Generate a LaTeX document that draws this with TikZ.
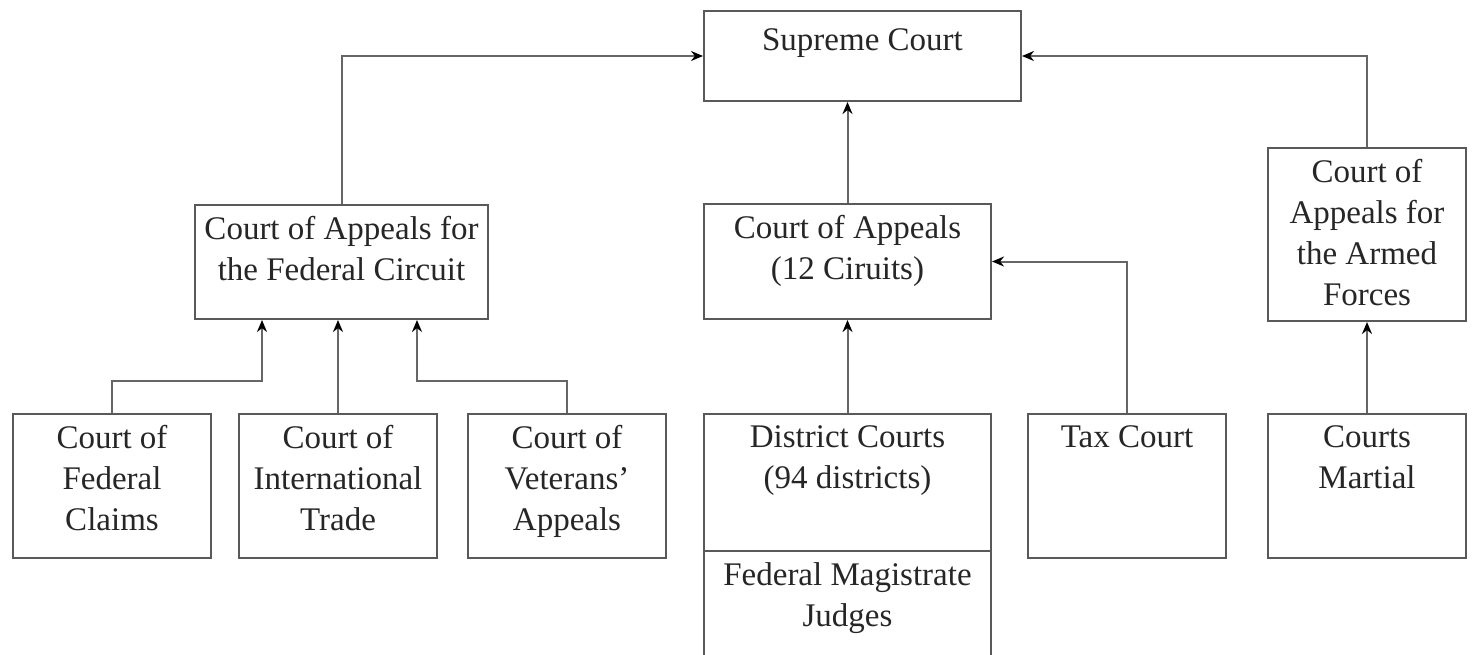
\documentclass[tikz,border=0pt]{standalone}
\usepackage{fontspec}
\setmainfont{Liberation Serif}
\usetikzlibrary{arrows.meta}
\usetikzlibrary{calc}

\begin{document}
\begin{tikzpicture}[x=0.5pt, y=-0.5pt, >={Stealth[length=6pt,width=5pt,black]},
		court/.style={draw=black!65, line width=1pt, anchor=north west, inner sep=0pt},
		txt/.style={anchor=north, yshift=-6pt, inner sep=0pt, align=center, text=black!85, font=\fontsize{16.5}{20.5}\selectfont},
		link/.style={->, draw=black!60, line width=1pt}]
		\useasboundingbox (0,0) rectangle (1472,654);
		
		%coordinates
		\coordinate (NWsup) at (703,10);
		\coordinate (NWfed) at (194,204);
		\coordinate (NWapp) at (703,203);
		\coordinate (NWarm) at (1267,147);
		\coordinate (NWcfc) at (12,413);
		\coordinate (NWcit) at (238,413);
		\coordinate (NWcva) at (467,413);
		\coordinate (NWdis) at (703,413);
		\coordinate (NWmag) at (703,550);
		\coordinate (NWtax) at (1027,413);
		\coordinate (NWmar) at (1267,413);
		
		%nodes
		\node[court, minimum width=158.5pt, minimum height=45pt, label={[txt, yshift=-3pt]north:Supreme Court}] (sup) at (NWsup) {};
		\node[court, minimum width=146.5pt, minimum height=57pt, label={[txt]north:{Court of Appeals for\\the Federal Circuit}}] (fed) at (NWfed) {};
		\node[court, minimum width=143.5pt, minimum height=57.5pt, label={[txt]north:{Court of Appeals\\(12 Ciruits)}}] (app) at (NWapp) {};
		\node[court, minimum width=99pt, minimum height=86.5pt, label={[txt]north:{Court of\\Appeals for\\the Armed\\Forces}}] (arm) at (NWarm) {};
		\node[court, minimum width=99pt, minimum height=72pt, label={[txt]north:{Court of\\Federal\\Claims}}] (cfc) at (NWcfc) {};
		\node[court, minimum width=99pt, minimum height=72pt, label={[txt]north:{Court of\\International\\Trade}}] (cit) at (NWcit) {};
		\node[court, minimum width=99pt, minimum height=72pt, label={[txt]north:{Court of\\Veterans'\\Appeals}}] (cva) at (NWcva) {};
		\node[court, minimum width=143.5pt, minimum height=68.5pt, label={[txt]north:{District Courts\\(94 districts)}}] (dis) at (NWdis) {};
		\node[court, minimum width=143.5pt, minimum height=55pt, label={[txt]north:{Federal Magistrate\\Judges}}] (mag) at (NWmag) {};
		\node[court, minimum width=99pt, minimum height=72pt, label={[txt]north:Tax Court}] (tax) at (NWtax) {};
		\node[court, minimum width=99pt, minimum height=72pt, label={[txt]north:{Courts\\Martial}}] (mar) at (NWmar) {};
		
		%links
		\draw[link] (fed.north) |- (sup.west);
		\draw[link] (arm.north) |- (sup.east);
		\draw[link] (app.north) -- (app.north |- sup.south);
		\draw[link] (dis.north) -- (app.south);
		\draw[link] (tax.north) |- (app.east);
		\draw[link] (mar.north) -- (arm.south);
		\draw[link] (cfc.north) -- ++(0,-32) -| ($(fed.south) + (-79.5,0)$);
		\draw[link] (cit.north) -- (cit.north |- fed.south);
		\draw[link] (cva.north) -- ++(0,-32) -| ($(fed.south) + (75.5,0)$);
		\end{tikzpicture}
\end{document}
